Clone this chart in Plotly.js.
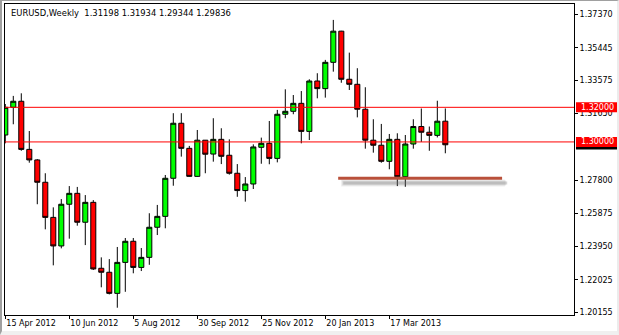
<!DOCTYPE html>
<html>
<head>
<meta charset="utf-8">
<script src="https://cdn.plot.ly/plotly-3.0.1.min.js"></script>
<style>
  html, body { margin: 0; padding: 0; background: #ffffff; }
  #wrap { position: relative; width: 619px; height: 335px; overflow: hidden; }
  #chart { position: absolute; left: 0; top: 0; width: 619px; height: 335px; }
  #frame { position: absolute; left: 0; top: 0; width: 619px; height: 335px; box-sizing: border-box;
           border-top: 1px solid #a0a0a0; border-left: 2px solid #a0a0a0;
           border-right: 2px solid #ececec; border-bottom: 4px solid #f0f0f0; pointer-events: none; }
</style>
</head>
<body>
<div id="wrap"><div id="chart"></div><div id="frame"></div></div>
<script>
// ---- data (EURUSD weekly) ----
const weeks = [
  '2012-04-15','2012-04-22','2012-04-29','2012-05-06','2012-05-13','2012-05-20','2012-05-27','2012-06-03',
  '2012-06-10','2012-06-17','2012-06-24','2012-07-01','2012-07-08','2012-07-15','2012-07-22','2012-07-29',
  '2012-08-05','2012-08-12','2012-08-19','2012-08-26','2012-09-02','2012-09-09','2012-09-16','2012-09-23',
  '2012-09-30','2012-10-07','2012-10-14','2012-10-21','2012-10-28','2012-11-04','2012-11-11','2012-11-18',
  '2012-11-25','2012-12-02','2012-12-09','2012-12-16','2012-12-23','2012-12-30','2013-01-06','2013-01-13',
  '2013-01-20','2013-01-27','2013-02-03','2013-02-10','2013-02-17','2013-02-24','2013-03-03','2013-03-10',
  '2013-03-17','2013-03-24','2013-03-31','2013-04-07','2013-04-14','2013-04-21','2013-04-28','2013-05-05'
];
const openP = [
  1.3040,1.3200,1.3235,1.2957,1.2896,1.2767,1.2564,1.2399,
  1.2640,1.2703,1.2536,1.2651,1.2270,1.2247,1.2125,1.2304,
  1.2426,1.2275,1.2333,1.2507,1.2570,1.2790,1.3108,1.2963,
  1.2801,1.3010,1.2930,1.3015,1.2923,1.2819,1.2719,1.2757,
  1.2969,1.2992,1.2905,1.3160,1.3177,1.3223,1.3061,1.3352,
  1.3308,1.3460,1.3640,1.3362,1.3333,1.3189,1.3010,1.2981,
  1.2888,1.3015,1.2799,1.2988,1.3089,1.3056,1.3038,1.31198
];
const highP = [
  1.3219,1.3266,1.3281,1.3063,1.2901,1.2819,1.2622,1.2670,
  1.2745,1.2740,1.2693,1.2664,1.2333,1.2323,1.2393,1.2445,
  1.2445,1.2387,1.2588,1.2636,1.2809,1.3166,1.3166,1.2977,
  1.3069,1.3011,1.3137,1.3079,1.3015,1.2872,1.2797,1.2986,
  1.3025,1.3121,1.3185,1.3304,1.3271,1.3294,1.3362,1.3397,
  1.3474,1.3705,1.3642,1.3516,1.3426,1.3316,1.3131,1.3104,
  1.3046,1.3050,1.3040,1.3131,1.3193,1.3089,1.3238,1.31934
];
const lowP = [
  1.2992,1.3102,1.2949,1.2880,1.2640,1.2495,1.2287,1.2385,
  1.2441,1.2516,1.2404,1.2260,1.2160,1.2119,1.2042,1.2134,
  1.2241,1.2254,1.2290,1.2462,1.2501,1.2747,1.2915,1.2799,
  1.2799,1.2819,1.2886,1.2872,1.2811,1.2683,1.2655,1.2728,
  1.2874,1.2871,1.2882,1.3137,1.3160,1.2992,1.3011,1.3252,
  1.3256,1.3406,1.3342,1.3300,1.3142,1.2961,1.2938,1.2880,
  1.2842,1.2745,1.2741,1.2961,1.3000,1.2949,1.3026,1.29344
];
const closeP = [
  1.3200,1.3235,1.2957,1.2896,1.2767,1.2564,1.2399,1.2640,
  1.2703,1.2536,1.2651,1.2266,1.2247,1.2125,1.2304,1.2426,
  1.2275,1.2333,1.2507,1.2570,1.2790,1.3108,1.2963,1.2801,
  1.3010,1.2929,1.3015,1.2917,1.2819,1.2719,1.2757,1.2971,
  1.2992,1.2905,1.3160,1.3177,1.3223,1.3061,1.3352,1.3308,
  1.3460,1.3640,1.3362,1.3333,1.3189,1.3010,1.2981,1.2888,
  1.3015,1.2799,1.2988,1.3089,1.3056,1.3038,1.31198,1.29836
];
// axis ticks
const dateTicks = ['2012-04-15','2012-06-10','2012-08-05','2012-09-30','2012-11-25','2013-01-20','2013-03-17'];
const dateTickText = ['15 Apr 2012','10 Jun 2012','5 Aug 2012','30 Sep 2012','25 Nov 2012','20 Jan 2013','17 Mar 2013'];
const priceTicks = [1.37370,1.35445,1.33575,1.31650,1.27800,1.25875,1.23950,1.22025,1.20155];
const priceTickText = ['1.37370','1.35445','1.33575','1.31650','1.27800','1.25875','1.23950','1.22025','1.20155'];
// horizontal levels
const resistanceLevels = [1.32000, 1.30000];
const supportLevel = 1.2790;
const supportStart = '2013-01-31 06:00';
const supportEnd = '2013-06-23 16:00';
const xRange = ['2012-04-14 18:00', '2013-08-25 14:00'];
const yRange = [1.2000, 1.3797];

const FONT = 'DejaVu Sans, Verdana, sans-serif';
const last = closeP.length - 1;
const titleText = 'EURUSD,Weekly\u00A0\u00A0' +
  [openP[last], highP[last], lowP[last], closeP[last]].map(v => v.toFixed(5)).join(' ');

const trace = {
  type: 'candlestick',
  x: weeks, open: openP, high: highP, low: lowP, close: closeP,
  increasing: { line: { color: '#000000', width: 1 }, fillcolor: '#00ff00' },
  decreasing: { line: { color: '#000000', width: 1 }, fillcolor: '#ff0000' },
  whiskerwidth: 0,
  hoverinfo: 'skip',
  showlegend: false
};

const shapes = [];
resistanceLevels.forEach(lv => {
  shapes.push({ type: 'line', xref: 'paper', yref: 'y', x0: 0, x1: 1, y0: lv, y1: lv,
                line: { color: '#ff0000', width: 1 }, layer: 'above' });
});
// support line soft shadow (layered to imitate a blur) + line
const dayMs = 86400000;
const shift = (d, days) => new Date(new Date(d.replace(' ', 'T') + 'Z').getTime() + days * dayMs).toISOString().slice(0, 16).replace('T', ' ');
[[7, 0.10, 2.5], [5, 0.16, 3.5], [3, 0.28, 4.5]].forEach(([w, a, dd]) => {
  shapes.push({ type: 'line', xref: 'x', yref: 'y', x0: shift(supportStart, dd), x1: shift(supportEnd, dd),
                y0: supportLevel - 0.0027, y1: supportLevel - 0.0027,
                line: { color: 'rgba(110,110,110,' + a + ')', width: w }, layer: 'above' });
});
shapes.push({ type: 'line', xref: 'x', yref: 'y', x0: supportStart, x1: supportEnd,
              y0: supportLevel, y1: supportLevel,
              line: { color: '#b9503a', width: 3 }, layer: 'above' });
// current price marker (mostly hidden behind the 1.30000 label)
shapes.push({ type: 'rect', xref: 'paper', yref: 'y', x0: 1.0035, x1: 1.0768,
              y0: closeP[last] - 0.0028, y1: closeP[last] + 0.0028,
              fillcolor: '#000000', line: { width: 0 }, layer: 'above' });
// price labels on the axis
resistanceLevels.forEach(lv => {
  shapes.push({ type: 'rect', xref: 'paper', yref: 'y', x0: 1.0035, x1: 1.0768,
                y0: lv - 0.0029, y1: lv + 0.0029,
                fillcolor: '#ff0000', line: { width: 0 }, layer: 'above' });
});

const annotations = resistanceLevels.map(lv => ({
  xref: 'paper', yref: 'y', x: 1.0093, y: lv, xanchor: 'left', yanchor: 'middle',
  text: lv.toFixed(5), showarrow: false, font: { family: FONT, size: 8, color: '#ffffff' }
}));
annotations.push({
  xref: 'paper', yref: 'paper', x: 0.0076, y: 0.971, xanchor: 'left', yanchor: 'middle',
  text: titleText, showarrow: false, font: { family: FONT, size: 8.4, color: '#000000' }
});

const layout = {
  width: 619, height: 335,
  margin: { l: 5, r: 45, t: 4, b: 20, pad: 0 },
  paper_bgcolor: '#ffffff', plot_bgcolor: '#ffffff',
  showlegend: false,
  boxgap: 0.3, boxgroupgap: 0.1,
  font: { family: FONT, size: 8, color: '#000000' },
  xaxis: {
    type: 'date', range: xRange, rangeslider: { visible: false },
    tickvals: dateTicks, ticktext: dateTickText,
    ticks: 'outside', ticklen: 3, tickcolor: '#000000', tickwidth: 1,
    ticklabelposition: 'outside right',
    showgrid: false, zeroline: false,
    showline: true, linecolor: '#000000', linewidth: 1, mirror: true,
    tickfont: { family: FONT, size: 8, color: '#000000' },
    fixedrange: true
  },
  yaxis: {
    side: 'right', range: yRange,
    tickvals: priceTicks, ticktext: priceTickText,
    ticks: 'outside', ticklen: 3, tickcolor: '#000000', tickwidth: 1,
    showgrid: false, zeroline: false,
    showline: true, linecolor: '#000000', linewidth: 1, mirror: true,
    tickfont: { family: FONT, size: 8, color: '#000000' },
    fixedrange: true
  },
  shapes: shapes,
  annotations: annotations
};

Plotly.newPlot('chart', [trace], layout, { staticPlot: true, displayModeBar: false });
</script>
</body>
</html>
